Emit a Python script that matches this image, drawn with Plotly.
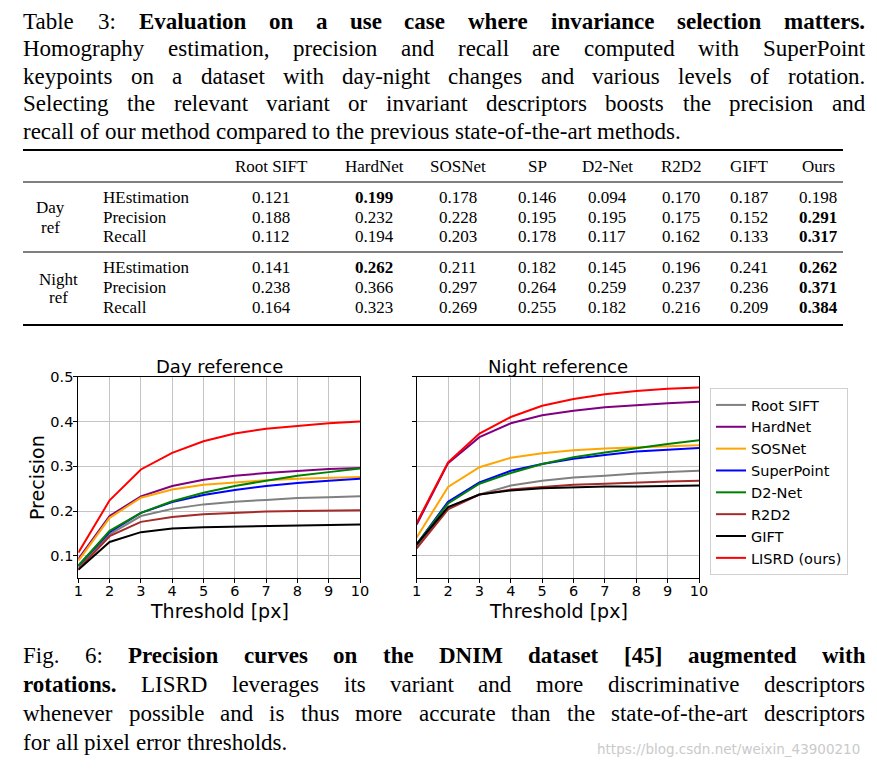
import plotly.graph_objects as go

W, H = 877, 769
OFF = 8  # the page body adds an 8px margin around the figure
FW, FH = W - OFF, H - OFF

# ---------------- data ----------------
thresholds = [1, 2, 3, 4, 5, 6, 7, 8, 9, 10]
methods = ["Root SIFT", "HardNet", "SOSNet", "SuperPoint", "D2-Net", "R2D2", "GIFT", "LISRD (ours)"]
colors = ["#808080", "#800080", "#FFA500", "#0000FF", "#008000", "#A52A2A", "#000000", "#FF0000"]

day_rootsift = [0.074, 0.148, 0.189, 0.205, 0.215, 0.221, 0.225, 0.229, 0.231, 0.233]
day_hardnet = [0.093, 0.189, 0.233, 0.256, 0.270, 0.279, 0.285, 0.290, 0.294, 0.296]
day_sosnet = [0.089, 0.185, 0.230, 0.248, 0.259, 0.264, 0.269, 0.272, 0.274, 0.276]
day_superpoint = [0.078, 0.153, 0.196, 0.220, 0.236, 0.247, 0.256, 0.263, 0.268, 0.272]
day_d2net = [0.078, 0.156, 0.196, 0.222, 0.241, 0.256, 0.268, 0.279, 0.287, 0.295]
day_r2d2 = [0.070, 0.144, 0.176, 0.187, 0.193, 0.196, 0.199, 0.200, 0.201, 0.202]
day_gift = [0.069, 0.131, 0.153, 0.161, 0.164, 0.165, 0.167, 0.168, 0.169, 0.170]
day_lisrd = [0.107, 0.224, 0.293, 0.330, 0.356, 0.373, 0.384, 0.390, 0.396, 0.400]

night_rootsift = [0.122, 0.208, 0.237, 0.257, 0.268, 0.275, 0.279, 0.284, 0.287, 0.290]
night_hardnet = [0.170, 0.307, 0.365, 0.396, 0.414, 0.424, 0.432, 0.437, 0.441, 0.444]
night_sosnet = [0.141, 0.254, 0.298, 0.319, 0.329, 0.336, 0.340, 0.343, 0.345, 0.347]
night_superpoint = [0.126, 0.221, 0.264, 0.290, 0.305, 0.317, 0.325, 0.333, 0.337, 0.341]
night_d2net = [0.126, 0.217, 0.261, 0.285, 0.305, 0.320, 0.331, 0.341, 0.350, 0.358]
night_r2d2 = [0.117, 0.204, 0.237, 0.248, 0.254, 0.259, 0.261, 0.264, 0.266, 0.268]
night_gift = [0.126, 0.209, 0.237, 0.246, 0.251, 0.253, 0.255, 0.255, 0.256, 0.257]
night_lisrd = [0.174, 0.309, 0.373, 0.410, 0.435, 0.450, 0.461, 0.468, 0.473, 0.476]

day_series = [day_rootsift, day_hardnet, day_sosnet, day_superpoint, day_d2net, day_r2d2, day_gift, day_lisrd]
night_series = [night_rootsift, night_hardnet, night_sosnet, night_superpoint, night_d2net, night_r2d2, night_gift, night_lisrd]

# table data
table_columns = ["Root SIFT", "HardNet", "SOSNet", "SP", "D2-Net", "R2D2", "GIFT", "Ours"]
table_groups = [["Day", "ref"], ["Night", "ref"]]
table_metrics = ["HEstimation", "Precision", "Recall"]
day_values = [
    ["0.121", "0.199", "0.178", "0.146", "0.094", "0.170", "0.187", "0.198"],
    ["0.188", "0.232", "0.228", "0.195", "0.195", "0.175", "0.152", "0.291"],
    ["0.112", "0.194", "0.203", "0.178", "0.117", "0.162", "0.133", "0.317"],
]
night_values = [
    ["0.141", "0.262", "0.211", "0.182", "0.145", "0.196", "0.241", "0.262"],
    ["0.238", "0.366", "0.297", "0.264", "0.259", "0.237", "0.236", "0.371"],
    ["0.164", "0.323", "0.269", "0.255", "0.182", "0.216", "0.209", "0.384"],
]
day_bold = [[1], [7], [7]]
night_bold = [[1, 7], [7], [7]]

# caption lines: list of (text, bold) segments
top_caption = [
    [("Table 3:", False), ("Evaluation on a use case where invariance selection matters.", True)],
    [("Homography estimation, precision and recall are computed with SuperPoint", False)],
    [("keypoints on a dataset with day-night changes and various levels of rotation.", False)],
    [("Selecting the relevant variant or invariant descriptors boosts the precision and", False)],
    [("recall of our method compared to the previous state-of-the-art methods.", False)],
]
bottom_caption = [
    [("Fig. 6:", False), ("Precision curves on the DNIM dataset [45] augmented with", True)],
    [("rotations.", True), ("LISRD leverages its variant and more discriminative descriptors", False)],
    [("whenever possible and is thus more accurate than the state-of-the-art descriptors", False)],
    [("for all pixel error thresholds.", False)],
]
watermark = "https://blog.csdn.net/weixin_43900210"

# ---------------- helpers ----------------
def px(x):
    return (x - OFF) / FW

def py(y):
    return 1 - (y - OFF) / FH

SERIF = "Liberation Serif"
SANS = "DejaVu Sans"

# approximate Times / Liberation Serif advance widths (1/1000 em)
_reg = dict(zip("abcdefghijklmnopqrstuvwxyz",
                [444, 500, 444, 500, 444, 333, 500, 500, 278, 278, 500, 278, 778, 500, 500, 500, 500, 333, 389, 278, 500, 500, 722, 500, 500, 444]))
_reg.update(dict(zip("ABCDEFGHIJKLMNOPQRSTUVWXYZ",
                     [722, 667, 667, 722, 611, 556, 722, 722, 333, 389, 722, 611, 889, 722, 722, 556, 722, 667, 556, 611, 722, 722, 944, 722, 722, 611])))
_bold = dict(zip("abcdefghijklmnopqrstuvwxyz",
                 [500, 556, 444, 556, 444, 333, 500, 556, 278, 333, 556, 278, 833, 556, 500, 556, 556, 444, 389, 333, 556, 500, 722, 500, 500, 444]))
_bold.update(dict(zip("ABCDEFGHIJKLMNOPQRSTUVWXYZ",
                      [722, 667, 722, 722, 667, 611, 778, 778, 389, 500, 778, 667, 944, 722, 778, 611, 778, 722, 556, 667, 722, 722, 1000, 722, 722, 667])))
for d, colon in ((_reg, 278), (_bold, 333)):
    for c in "0123456789":
        d[c] = 500
    d.update({",": 250, ".": 250, "-": 333, ":": colon, "[": 333, "]": 333, "(": 333, ")": 333, " ": 250})


def text_width(s, bold, size):
    d = _bold if bold else _reg
    return sum(d.get(c, 500) for c in s) * size / 1000.0


def line_annotations(segments, y, size, x0, x1, justify):
    words = []
    for txt, b in segments:
        for w in txt.split(" "):
            if w:
                words.append((w, b))
    widths = [text_width(w, b, size) for w, b in words]
    if justify and len(words) > 1:
        gap = (x1 - x0 - sum(widths)) / (len(words) - 1)
    else:
        gap = size * 0.25
    out = []
    x = x0
    for (w, b), wd in zip(words, widths):
        out.append(dict(text=f"<b>{w}</b>" if b else w, x=px(x), y=py(y), xref="paper", yref="paper",
                        showarrow=False, xanchor="left", yanchor="middle",
                        font=dict(family=SERIF, size=size, color="black")))
        x += wd + gap
    return out


fig = go.Figure()

for i, name in enumerate(methods):
    fig.add_trace(go.Scatter(x=thresholds, y=day_series[i], mode="lines", name=name,
                             line=dict(color=colors[i], width=2), legendgroup=name,
                             xaxis="x", yaxis="y"))
for i, name in enumerate(methods):
    fig.add_trace(go.Scatter(x=thresholds, y=night_series[i], mode="lines", name=name,
                             line=dict(color=colors[i], width=2), legendgroup=name,
                             showlegend=False, xaxis="x2", yaxis="y2"))

tick_font = dict(family=SANS, size=14.5, color="black")
axis_common = dict(range=[1, 10], dtick=1, showgrid=True, gridcolor="#c4c4c4", gridwidth=1,
                   showline=True, linecolor="black", linewidth=1, mirror=True,
                   ticks="outside", ticklen=4, tickcolor="black", automargin=False,
                   ticklabelstandoff=-5, tickfont=tick_font, zeroline=False)
yaxis_common = dict(range=[0.05, 0.5], tickvals=[0.1, 0.2, 0.3, 0.4, 0.5], showgrid=True,
                    gridcolor="#c4c4c4", gridwidth=1, showline=True, linecolor="black",
                    linewidth=1, mirror=True, ticks="outside", ticklen=4, tickcolor="black",
                    automargin=False, ticklabelstandoff=-3, tickfont=tick_font, zeroline=False)

ydom = [py(578.3), py(376.7)]
fig.update_layout(
    xaxis=dict(axis_common, domain=[px(78.3), px(360)]),
    yaxis=dict(yaxis_common, domain=ydom),
    xaxis2=dict(axis_common, domain=[px(416.7), px(699)], anchor="y2"),
    yaxis2=dict(yaxis_common, domain=ydom, anchor="x2", showticklabels=False),
)

annotations = []
sans18 = dict(family=SANS, size=18, color="black")
sans19 = dict(family=SANS, size=19, color="black")
# subplot titles and axis titles
annotations.append(dict(text="Day reference", x=px(219), y=py(366), xref="paper", yref="paper",
                        showarrow=False, xanchor="center", yanchor="middle", font=sans18))
annotations.append(dict(text="Night reference", x=px(558), y=py(366), xref="paper", yref="paper",
                        showarrow=False, xanchor="center", yanchor="middle", font=sans18))
for cx in (219, 558):
    annotations.append(dict(text="Threshold [px]", x=px(cx), y=py(611), xref="paper", yref="paper",
                            showarrow=False, xanchor="center", yanchor="middle", font=sans19))
annotations.append(dict(text="Precision", x=px(37), y=py(477), xref="paper", yref="paper", textangle=-90,
                        showarrow=False, xanchor="center", yanchor="middle", font=sans19))

# captions (justified like the LaTeX source)
CAP = 23
top_y = [21.5, 49, 76.5, 104, 131.5]
for k, (segs, yy) in enumerate(zip(top_caption, top_y)):
    annotations += line_annotations(segs, yy, CAP, 21, 863, justify=(k < len(top_caption) - 1))
bot_y = [655, 684, 713, 742]
for k, (segs, yy) in enumerate(zip(bottom_caption, bot_y)):
    annotations += line_annotations(segs, yy, CAP, 21, 863, justify=(k < len(bottom_caption) - 1))
annotations.append(dict(text=watermark, x=px(862), y=py(749), xref="paper", yref="paper", showarrow=False,
                        xanchor="right", yanchor="middle", font=dict(family=SANS, size=13.5, color="#cacaca")))

# table
col_x = [271, 374, 458, 537, 607, 681, 749, 818]
tfont = 17
serif_t = dict(family=SERIF, size=tfont, color="black")
for j, c in enumerate(table_columns):
    annotations.append(dict(text=c, x=px(col_x[j]), y=py(166.5), xref="paper", yref="paper", showarrow=False,
                            xanchor="center", yanchor="middle", font=serif_t))
row_y_day = [198, 217, 236]
row_y_night = [268, 287, 307]
group_label_y = [[208, 227], [279, 298]]
group_label_x = [50, 58]
for g, (vals, bold, rows) in enumerate([(day_values, day_bold, row_y_day), (night_values, night_bold, row_y_night)]):
    for k, lab in enumerate(table_groups[g]):
        annotations.append(dict(text=lab, x=px(group_label_x[g]), y=py(group_label_y[g][k]), xref="paper",
                                yref="paper", showarrow=False, xanchor="center", yanchor="middle", font=serif_t))
    for r, m in enumerate(table_metrics):
        annotations.append(dict(text=m, x=px(101), y=py(rows[r]), xref="paper", yref="paper", showarrow=False,
                                xanchor="left", yanchor="middle", font=serif_t))
        for j, v in enumerate(vals[r]):
            txt = f"<b>{v}</b>" if j in bold[r] else v
            annotations.append(dict(text=txt, x=px(col_x[j]), y=py(rows[r]), xref="paper", yref="paper",
                                    showarrow=False, xanchor="center", yanchor="middle", font=serif_t))

shapes = []
for yy, w in [(150, 2), (182, 1), (252, 1), (325, 2)]:
    shapes.append(dict(type="line", xref="paper", yref="paper", x0=px(23), x1=px(843), y0=py(yy), y1=py(yy),
                       line=dict(color="black", width=w)))

fig.update_layout(
    width=FW, height=FH, margin=dict(l=0, r=0, t=0, b=0, autoexpand=False),
    paper_bgcolor="white", plot_bgcolor="white",
    annotations=annotations, shapes=shapes,
    legend=dict(x=px(710), y=py(388), xanchor="left", yanchor="top", bordercolor="#d0d0d0", borderwidth=1,
                bgcolor="white", font=dict(family=SANS, size=14.5, color="black"), tracegroupgap=0,
                entrywidth=113),
    showlegend=True,
)

fig.write_html("out.html")
